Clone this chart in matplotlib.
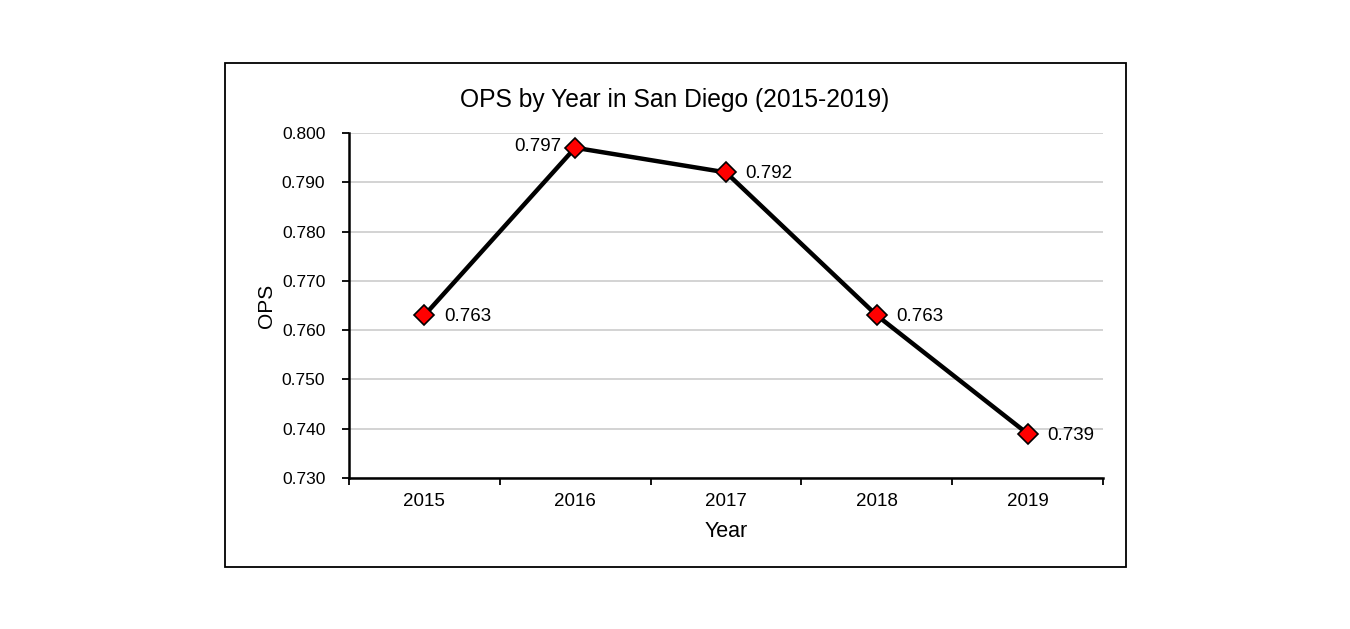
import matplotlib.pyplot as plt
from matplotlib.patches import Rectangle
from matplotlib.ticker import FixedLocator

plt.rcParams['font.family'] = ['Liberation Sans', 'DejaVu Sans']

years = ['2015', '2016', '2017', '2018', '2019']
ops = [0.763, 0.797, 0.792, 0.763, 0.739]
label_side = ['right', 'left', 'right', 'right', 'right']
y_ticks = [0.730, 0.740, 0.750, 0.760, 0.770, 0.780, 0.790, 0.800]

fig = plt.figure(figsize=(13.5, 6.29), dpi=100)

# outer chart border
fig.patches.append(Rectangle((0.1667, 0.0986), 0.6674, 0.801, transform=fig.transFigure,
                             fill=False, edgecolor='black', linewidth=1.3, zorder=0))

ax = fig.add_axes([0.2585, 0.2400, 0.5585, 0.5486])
x = list(range(len(years)))
ax.plot(x, ops, color='black', linewidth=3.2, marker='D', markersize=10.5,
        markerfacecolor='red', markeredgecolor='black', markeredgewidth=1.2, zorder=3)

for xi, v, side in zip(x, ops, label_side):
    if side == 'right':
        ax.annotate(f'{v:.3f}', (xi, v), xytext=(14, -1), textcoords='offset points',
                    ha='left', va='center', fontsize=13.5)
    else:
        ax.annotate(f'{v:.3f}', (xi, v), xytext=(-10, 1), textcoords='offset points',
                    ha='right', va='center', fontsize=13.5)

ax.set_xlim(-0.5, len(years) - 0.5)
ax.set_ylim(0.730, 0.800)
ax.set_yticks(y_ticks)
ax.set_yticklabels([f'{t:.3f}' for t in y_ticks], fontsize=12.5)
ax.set_xticks(x)
ax.set_xticklabels(years, fontsize=13.5)
ax.xaxis.set_minor_locator(FixedLocator([i - 0.5 for i in range(len(years) + 1)]))
ax.tick_params(axis='x', which='major', length=0, pad=11)
ax.tick_params(axis='x', which='minor', length=5, width=1.3, direction='out')
ax.tick_params(axis='y', length=5, width=1.3, direction='out', pad=12)

ax.grid(axis='y', color='#d0d0d0', linewidth=1.3, zorder=0)
ax.set_axisbelow(True)
for s in ['top', 'right']:
    ax.spines[s].set_visible(False)
for s in ['left', 'bottom']:
    ax.spines[s].set_linewidth(1.8)

ax.set_xlabel('Year', fontsize=15.5, labelpad=8)
ax.set_ylabel('OPS', fontsize=15, labelpad=4)

fig.text(0.5, 0.830, 'OPS by Year in San Diego (2015-2019)', ha='center', va='baseline', fontsize=17.7)

fig.savefig('out.png', dpi=100)
